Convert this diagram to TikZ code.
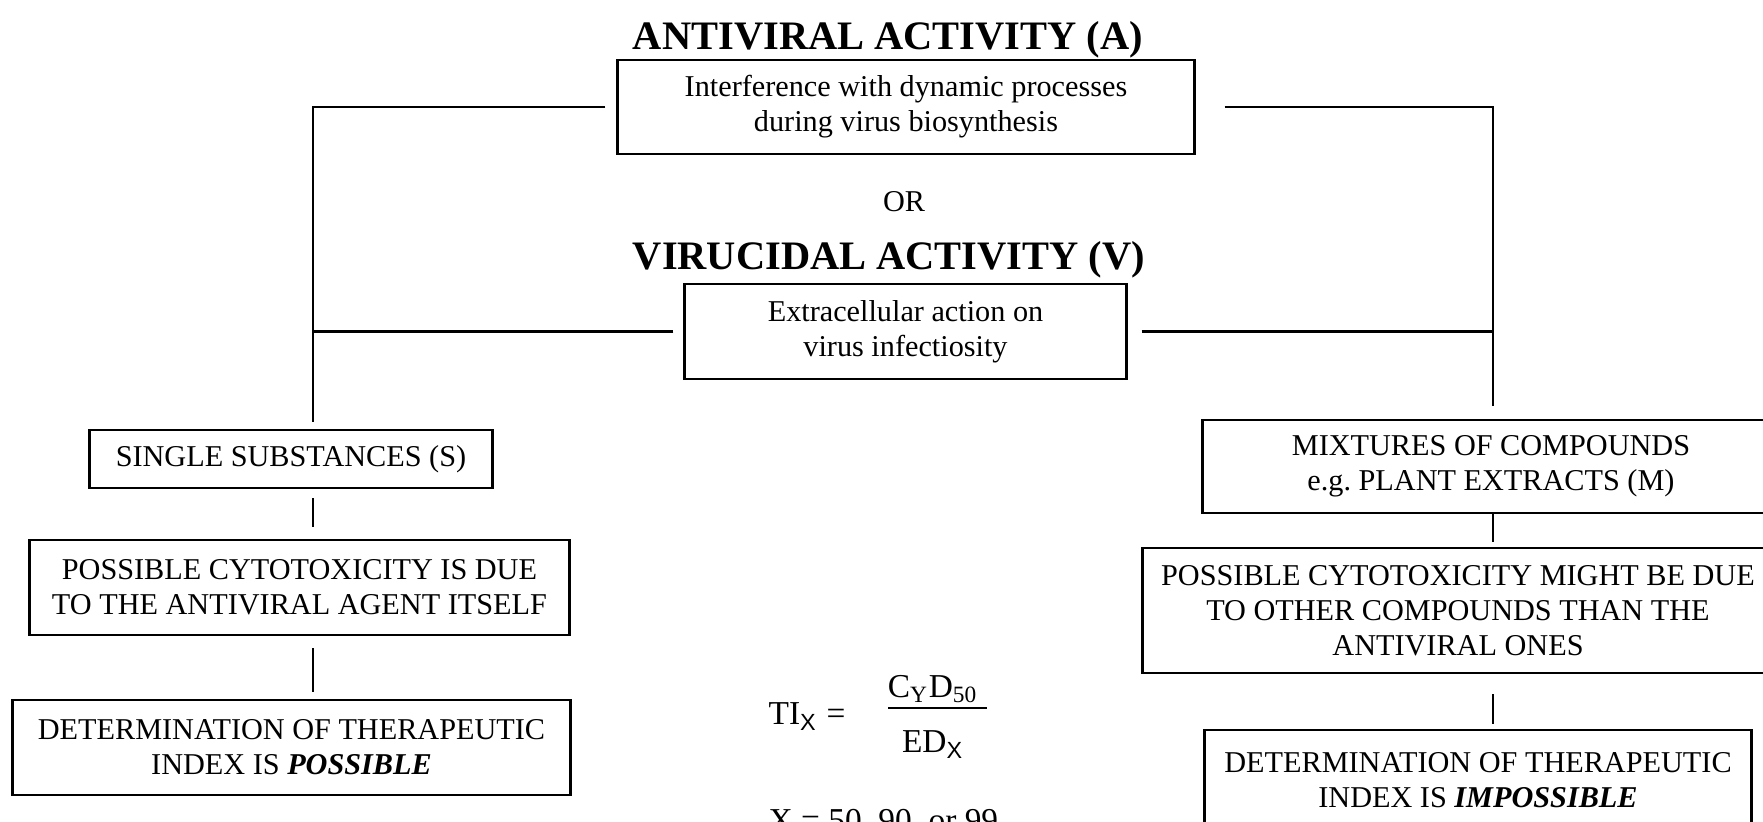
\documentclass[tikz,border=0pt]{standalone}
\usepackage{fontspec}
\setmainfont{Liberation Serif}
\newfontfamily\subsf{Liberation Sans}
\usepackage{tikz}
\usetikzlibrary{positioning,calc}

\begin{document}
\begin{tikzpicture}[x=0.01cm, y=-0.01cm,
    font=\fontsize{8.6}{10}\selectfont,
    box/.style={draw, line width=0.8pt, align=center, inner sep=0pt},
    title/.style={font=\fontsize{11.5}{13}\selectfont\bfseries, inner sep=0pt},
    formula/.style={font=\fontsize{9.5}{11}\selectfont, inner sep=0pt},
    link/.style={line width=0.8pt}]
\useasboundingbox (0,0) rectangle (1763,822);
\clip (0,0) rectangle (1763,822);

% Headings and the two activity boxes
\node[title, anchor=base] (titleA) at (888,50) {ANTIVIRAL ACTIVITY (A)};
\node[box, minimum width=5.76cm, minimum height=0.94cm] (A) at (906,107)
    {Interference with dynamic processes\\during virus biosynthesis};
\node[anchor=base, inner sep=0pt] (or) at (904,212) {OR};
\node[title, anchor=base] (titleV) at (889,270) {VIRUCIDAL ACTIVITY (V)};
\node[box, minimum width=4.41cm, minimum height=0.95cm] (V) at (905.5,331.5)
    {Extracellular action on\\virus infectiosity};

% Left column: single substances
\node[box, minimum width=4.02cm, minimum height=0.58cm] (S) at (291,459)
    {SINGLE SUBSTANCES (S)};
\node[box, minimum width=5.39cm, minimum height=0.95cm] (cytoS) at (299.5,587.5)
    {POSSIBLE CYTOTOXICITY IS DUE\\TO THE ANTIVIRAL AGENT ITSELF};
\node[box, minimum width=5.57cm, minimum height=0.95cm] (detS) at (291.5,747.5)
    {DETERMINATION OF THERAPEUTIC\\INDEX IS \textbf{\textit{POSSIBLE}}};

% Right column: mixtures
\node[box, minimum width=5.76cm, minimum height=0.93cm] (M) at (1491,466.5)
    {MIXTURES OF COMPOUNDS\\e.g.\ PLANT EXTRACTS (M)};
\node[box, minimum width=6.30cm, minimum height=1.25cm] (cytoM) at (1458,610.5)
    {POSSIBLE CYTOTOXICITY MIGHT BE DUE\\TO OTHER COMPOUNDS THAN THE\\ANTIVIRAL ONES};
\node[box, minimum width=5.46cm, minimum height=1.00cm] (detM) at (1478,780)
    {DETERMINATION OF THERAPEUTIC\\INDEX IS \textbf{\textit{IMPOSSIBLE}}};

% Therapeutic index formula
\node[formula, anchor=base west] (ti) at (768,725) {TI\textsubscript{\subsf X}};
\node[formula, anchor=base] (eq) at (836,725) {=};
\node[formula, anchor=base] (num) at (933,698) {C\textsubscript{Y}D\textsubscript{50}};
\node[fill, inner sep=0pt, minimum width=0.99cm, minimum height=0.8pt] (bar) at (937.5,708) {};
\node[formula, anchor=base] (den) at (933,753) {ED\textsubscript{\subsf X}};
\node[formula, anchor=base west] (xval) at (768,832) {X = 50, 90, or 99};

% Connectors
\coordinate (colS) at (313,104);
\coordinate (colM) at (1493,104);
\draw[link, shorten <=0.11cm, shorten >=0.07cm] (A.west) -| (colS |- S.north);
\draw[link, shorten <=0.29cm, shorten >=0.13cm] (A.east) -| (colM |- M.north);
\draw[link, shorten <=0.10cm] (V.west) -- (V.west -| colS);
\draw[link, shorten <=0.14cm] (V.east) -- (V.east -| colM);
\draw[link, shorten <=0.09cm, shorten >=0.12cm] (colS |- S.south) -- (colS |- cytoS.north);
\draw[link, shorten <=0.12cm, shorten >=0.07cm] (colS |- cytoS.south) -- (colS |- detS.north);
\draw[link, shorten >=0.05cm] (colM |- M.south) -- (colM |- cytoM.north);
\draw[link, shorten <=0.20cm, shorten >=0.05cm] (colM |- cytoM.south) -- (colM |- detM.north);
\end{tikzpicture}
\end{document}
